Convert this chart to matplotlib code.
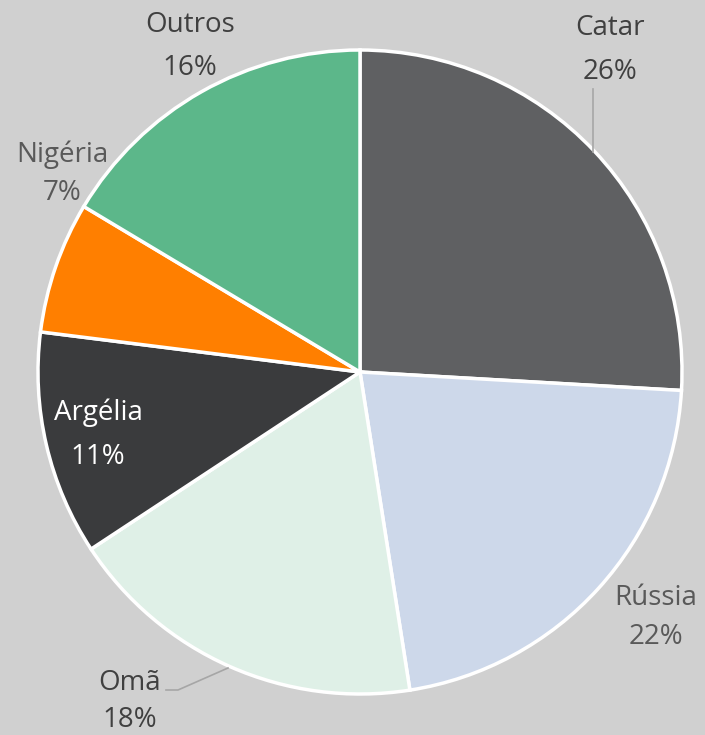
import matplotlib.pyplot as plt

countries = ["Catar", "Rússia", "Omã", "Argélia", "Nigéria", "Outros"]
shares = [25.9, 21.6, 18.2, 11.25, 6.6, 16.4]
colors = ["#5f6062", "#cdd8ea", "#dff0e7", "#3a3b3d", "#ff7f00", "#5cb78a"]

bg = "#d0d0d0"
plt.rcParams['font.family'] = ['Open Sans', 'DejaVu Sans']

fig = plt.figure(figsize=(7.05, 7.35), dpi=100, facecolor=bg)
ax = fig.add_axes([0, 0, 1, 1])
ax.set_facecolor(bg)

# pie centre / radius in pixel units
cx, cy, r = 360, 735 - 372, 322
ax.pie(shares, colors=colors, startangle=90, counterclock=False,
       center=(cx, cy), radius=r, frame=True,
       wedgeprops=dict(edgecolor='white', linewidth=2.5))
ax.set_xlim(0, 705)
ax.set_ylim(0, 735)
ax.set_aspect('equal')
ax.axis('off')

# label positions: x, y of name, y of pct, colour
label_pos = [
    (610, 28, 72, "#404040"),
    (656, 598, 637, "#595959"),
    (130, 683, 720, "#404040"),
    (98, 413, 457, "white"),
    (62, 155, 193, "#595959"),
    (190, 25, 68, "#404040"),
]
for name, v, (x, y1, y2, c) in zip(countries, shares, label_pos):
    ax.text(x, 735 - y1, name, ha='center', va='center', fontsize=20, color=c)
    ax.text(x, 735 - y2, f"{round(v)}%", ha='center', va='center', fontsize=20, color=c)

# leader lines
ax.plot([593, 593], [735 - 89, 735 - 152], color="#a6a6a6", lw=1.2)
ax.plot([166, 178, 228], [735 - 690, 735 - 690, 735 - 668], color="#a6a6a6", lw=1.2)

fig.savefig("out.png", dpi=100, facecolor=bg)
